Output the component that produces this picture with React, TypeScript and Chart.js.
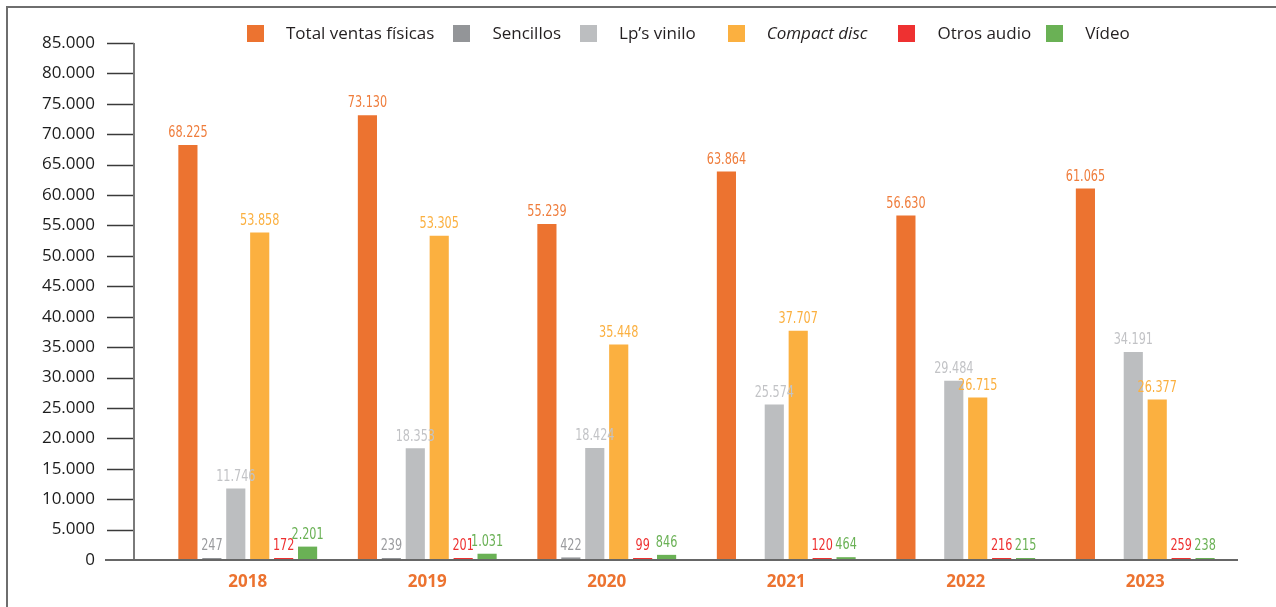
import React, { useEffect, useRef } from "react";
import { Chart, registerables } from "chart.js";

Chart.register(...registerables);

const categories = ["2018", "2019", "2020", "2021", "2022", "2023"];
const totalVentas = [68225, 73130, 55239, 63864, 56630, 61065];
const sencillos = [247, 239, 422, null, null, null];
const lpVinilo = [11746, 18353, 18424, 25574, 29484, 34191];
const compactDisc = [53858, 53305, 35448, 37707, 26715, 26377];
const otrosAudio = [172, 201, 99, 120, 216, 259];
const video = [2201, 1031, 846, 464, 215, 238];

const seriesNames = ["Total ventas físicas", "Sencillos", "Lp’s vinilo", "Compact disc", "Otros audio", "Vídeo"];
const seriesItalic = [false, false, false, true, false, false];
const barColors = ["#EC7330", "#939598", "#BCBEC0", "#FBB040", "#EE3131", "#6AB155"];
const labelColors = ["#EF7D3C", "#9A9B9E", "#C2C3C6", "#FBB040", "#EE3131", "#6AB155"];
const legendGaps = [19, 19, 32, 31, 15, 0];

const Y_MIN = 0;
const Y_MAX = 85000;
const Y_STEP = 5000;

const fmt = (n: number) => String(Math.round(n)).replace(/\B(?=(\d{3})+(?!\d))/g, ".");

const axisPlugin = {
  id: "customAxis",
  afterDatasetsDraw(chart: any) {
    const { ctx, chartArea, scales } = chart;
    const y = scales.y;
    const axisX = chartArea.left - 24;
    ctx.save();
    ctx.strokeStyle = "#3a3a3a";
    ctx.lineWidth = 1.5;
    y.ticks.forEach((t: any) => {
      if (t.value === 0) return;
      const py = Math.round(y.getPixelForValue(t.value)) + 0.5;
      ctx.beginPath();
      ctx.moveTo(axisX - 27, py);
      ctx.lineTo(axisX, py);
      ctx.stroke();
    });
    ctx.strokeStyle = "#7a7a7a";
    ctx.lineWidth = 2;
    ctx.beginPath();
    ctx.moveTo(axisX, y.getPixelForValue(Y_MAX));
    ctx.lineTo(axisX, y.getPixelForValue(0));
    ctx.stroke();
    const by = y.getPixelForValue(0);
    ctx.strokeStyle = "#666666";
    ctx.lineWidth = 2;
    ctx.beginPath();
    ctx.moveTo(axisX - 29, by);
    ctx.lineTo(chartArea.right + 3, by);
    ctx.stroke();
    ctx.restore();
  },
};

const valueLabelPlugin = {
  id: "valueLabels",
  afterDatasetsDraw(chart: any) {
    const { ctx } = chart;
    ctx.save();
    ctx.font = '16px "Liberation Sans Narrow", "DejaVu Sans Condensed", "Roboto", sans-serif';
    ctx.textAlign = "center";
    ctx.textBaseline = "bottom";
    chart.data.datasets.forEach((ds: any, di: number) => {
      const meta = chart.getDatasetMeta(di);
      meta.data.forEach((el: any, i: number) => {
        const v = ds.data[i];
        if (v === null || v === undefined) return;
        ctx.save();
        ctx.translate(el.x, el.y - 4);
        ctx.scale(0.78, 1);
        ctx.fillStyle = labelColors[di];
        ctx.fillText(fmt(v), 0, 0);
        ctx.restore();
      });
    });
    ctx.restore();
  },
};

export default function App() {
  const canvasRef = useRef<HTMLCanvasElement | null>(null);

  useEffect(() => {
    document.body.style.margin = "0";
    document.body.style.overflow = "hidden";
    const canvas = canvasRef.current;
    if (!canvas) return;
    const seriesData = [totalVentas, sencillos, lpVinilo, compactDisc, otrosAudio, video];
    const chart = new Chart(canvas, {
      type: "bar",
      data: {
        labels: categories,
        datasets: seriesData.map((d, i) => ({
          label: seriesNames[i],
          data: d,
          backgroundColor: barColors[i],
          borderWidth: 0,
          barPercentage: 0.8,
          categoryPercentage: 0.8,
          minBarLength: 2,
        })),
      },
      options: {
        responsive: false,
        animation: false,
        devicePixelRatio: 1,
        layout: { padding: { top: 43, right: 41, left: 0, bottom: 0 } },
        plugins: {
          legend: { display: false },
          tooltip: { enabled: false },
          title: { display: false },
        },
        scales: {
          x: {
            grid: { display: false },
            border: { display: false },
            ticks: {
              color: "#EC7330",
              font: { family: '"Open Sans", sans-serif', size: 17, weight: "bold" },
              padding: 4,
            },
            afterFit: (s: any) => {
              s.height = 47;
              s.paddingLeft = 0;
              s.paddingRight = 0;
            },
          },
          y: {
            min: Y_MIN,
            max: Y_MAX,
            grid: { display: false },
            border: { display: false },
            ticks: {
              stepSize: Y_STEP,
              color: "#1c1c1c",
              font: { family: '"Open Sans", sans-serif', size: 17 },
              padding: 55,
              callback: (v: any) => fmt(Number(v)),
            },
            afterFit: (s: any) => {
              s.width = 158;
              s.paddingTop = 0;
              s.paddingBottom = 0;
            },
          },
        },
      },
      plugins: [axisPlugin, valueLabelPlugin],
    });
    return () => chart.destroy();
  }, []);

  return (
    <div style={{ position: "relative", width: 1276, height: 607, overflow: "hidden", background: "#fff" }}>
      <div style={{ position: "absolute", left: 6, top: 6, width: 1270, height: 2, background: "#6e6e6e" }} />
      <div style={{ position: "absolute", left: 6, top: 6, width: 2, height: 601, background: "#6e6e6e" }} />
      <canvas ref={canvasRef} width={1276} height={607} style={{ position: "absolute", left: 0, top: 0 }} />
      <div
        style={{
          position: "absolute",
          left: 247,
          top: 23,
          display: "flex",
          alignItems: "center",
          fontFamily: '"Open Sans", sans-serif',
          fontSize: 17,
          color: "#231F20",
          whiteSpace: "nowrap",
        }}
      >
        {seriesNames.map((name, i) => (
          <div key={name} style={{ display: "flex", alignItems: "center", marginRight: legendGaps[i] }}>
            <span style={{ display: "inline-block", width: 17, height: 17, background: barColors[i], marginRight: 22 }} />
            <span style={{ fontStyle: seriesItalic[i] ? "italic" : "normal", lineHeight: "20px" }}>{name}</span>
          </div>
        ))}
      </div>
    </div>
  );
}
